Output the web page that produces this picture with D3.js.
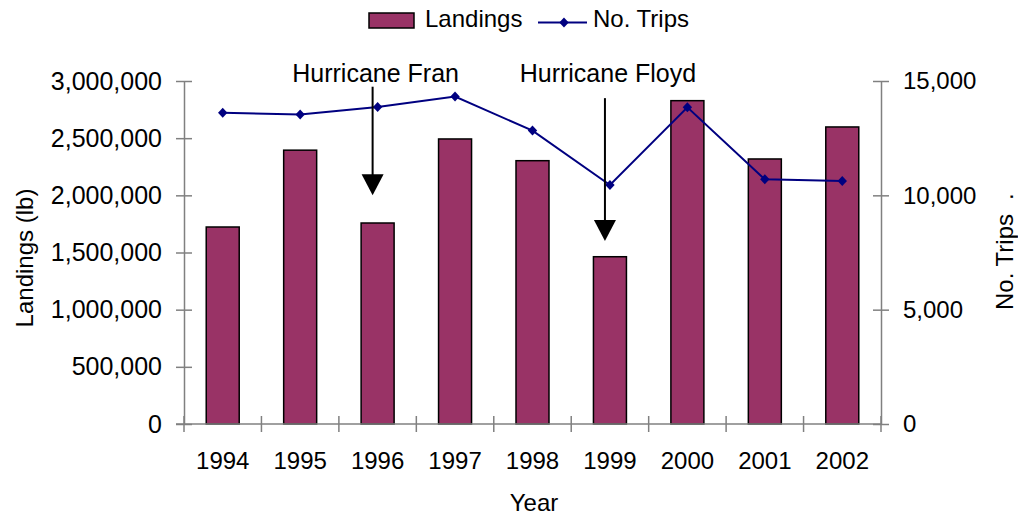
<!DOCTYPE html>
<html>
<head>
<meta charset="utf-8">
<script src="https://cdn.jsdelivr.net/npm/d3@7"></script>
<style>
  html, body { margin: 0; padding: 0; background: #fff; }
  svg { display: block; font-family: "Liberation Sans", Arial, sans-serif; }
</style>
</head>
<body>
<svg id="chart" width="1018" height="518"></svg>
<script>
const years = ["1994","1995","1996","1997","1998","1999","2000","2001","2002"];
const landings = [1723000, 2395000, 1758000, 2493000, 2303000, 1463000, 2828000, 2318000, 2598000];
const trips = [13610, 13540, 13860, 14320, 12830, 10450, 13850, 10700, 10630];
const leftTicks = [0, 500000, 1000000, 1500000, 2000000, 2500000, 3000000];
const rightTicks = [0, 5000, 10000, 15000];
const hurricanes = [
  { label: "Hurricane Fran", year: "1996", tip: 2000000, top: 2950000 },
  { label: "Hurricane Floyd", year: "1999", tip: 1600000, top: 2850000 }
];

const svg = d3.select("#chart");
const L = 184, R = 881, T = 81, B = 424;
const axisColor = "#808080";
const barColor = "#993366";
const lineColor = "#000080";
const font = '"Liberation Sans", Arial, sans-serif';

const x = d3.scaleBand().domain(years).range([L, R]).paddingInner(0.574).paddingOuter(0.287);
const step = x.step();
const cx = d => x(d) + x.bandwidth() / 2;
const yL = d3.scaleLinear().domain([0, 3000000]).range([B, T]);
const yR = d3.scaleLinear().domain([0, 15000]).range([B, T]);

// Bars
svg.append("g").selectAll("rect").data(years).join("rect")
  .attr("x", d => x(d))
  .attr("width", x.bandwidth())
  .attr("y", (d, i) => yL(landings[i]))
  .attr("height", (d, i) => B - yL(landings[i]))
  .attr("fill", barColor)
  .attr("stroke", "#000")
  .attr("stroke-width", 1.5);

// Left axis
const gL = svg.append("g").attr("transform", `translate(${L},0)`)
  .call(d3.axisLeft(yL).tickValues(leftTicks).tickFormat(d3.format(",")).tickSize(8).tickSizeOuter(0).tickPadding(14));
gL.selectAll(".tick line").attr("x1", 8);
// Right axis
const gR = svg.append("g").attr("transform", `translate(${R},0)`)
  .call(d3.axisRight(yR).tickValues(rightTicks).tickFormat(d3.format(",")).tickSize(8).tickSizeOuter(0).tickPadding(14));
gR.selectAll(".tick line").attr("x1", -8);

// Bottom axis (category boundary ticks)
const gB = svg.append("g").attr("transform", `translate(0,${B})`)
  .call(d3.axisBottom(x).tickSize(0).tickSizeOuter(0).tickPadding(28));
gB.select(".domain").remove();
const boundaries = years.map(d => x(d) - (step - x.bandwidth()) / 2).concat([R]);
gB.selectAll("line.bt").data(boundaries).join("line").attr("class", "bt")
  .attr("x1", d => d).attr("x2", d => d).attr("y1", -8).attr("y2", 8)
  .attr("stroke", axisColor).attr("stroke-width", 1.5);
gB.append("line").attr("x1", L - 8).attr("x2", R).attr("y1", 0).attr("y2", 0)
  .attr("stroke", axisColor).attr("stroke-width", 1.5);

[gL, gR].forEach(g => {
  g.select(".domain").attr("stroke", axisColor).attr("stroke-width", 1.5);
  g.selectAll(".tick line").attr("stroke", axisColor).attr("stroke-width", 1.5);
});
[gL, gR, gB].forEach(g => {
  g.selectAll(".tick text").attr("font-size", 24).attr("fill", "#000").attr("font-family", font);
});
gL.selectAll(".tick text").attr("font-size", 25);
gB.selectAll(".tick text").attr("dy", "0.71em");

// Line
const line = d3.line().x((d, i) => cx(years[i])).y(d => yR(d));
svg.append("path").datum(trips).attr("d", line)
  .attr("fill", "none").attr("stroke", lineColor).attr("stroke-width", 2);
const diamondPath = "M0,-5L4.7,0L0,5L-4.7,0Z";
svg.append("g").selectAll("path").data(trips).join("path")
  .attr("d", diamondPath)
  .attr("transform", (d, i) => `translate(${cx(years[i])},${yR(d)})`)
  .attr("fill", lineColor);

// Hurricane annotations
hurricanes.forEach(h => {
  const ax = cx(h.year) - 5;
  const tipY = yL(h.tip);
  svg.append("text").attr("x", cx(h.year) - 2).attr("y", 82)
    .attr("text-anchor", "middle").attr("font-size", 25).text(h.label);
  svg.append("line").attr("x1", ax).attr("x2", ax)
    .attr("y1", yL(h.top)).attr("y2", tipY - 18)
    .attr("stroke", "#000").attr("stroke-width", 2);
  svg.append("path")
    .attr("d", `M${ax - 11},${tipY - 21}L${ax + 11},${tipY - 21}L${ax},${tipY}Z`)
    .attr("fill", "#000");
});

// Axis titles
svg.append("text").attr("transform", "translate(33,258) rotate(-90)")
  .attr("text-anchor", "middle").attr("font-size", 24).text("Landings (lb)");
const rt = svg.append("text").attr("transform", "translate(1013,310) rotate(-90)")
  .attr("text-anchor", "start").attr("font-size", 24);
rt.append("tspan").text("No. Trips");
rt.append("tspan").attr("dx", 14).text(".");
svg.append("text").attr("x", 534).attr("y", 511)
  .attr("text-anchor", "middle").attr("font-size", 24).text("Year");

// Legend
const lg = svg.append("g");
lg.append("rect").attr("x", 369).attr("y", 13).attr("width", 45).attr("height", 15)
  .attr("fill", barColor).attr("stroke", "#000").attr("stroke-width", 1.5);
lg.append("text").attr("x", 425).attr("y", 27).attr("font-size", 24).text("Landings");
lg.append("line").attr("x1", 538).attr("x2", 587).attr("y1", 22.5).attr("y2", 22.5)
  .attr("stroke", lineColor).attr("stroke-width", 2);
lg.append("path").attr("d", diamondPath).attr("transform", "translate(564,22.5)").attr("fill", lineColor);
lg.append("text").attr("x", 593).attr("y", 27).attr("font-size", 24).text("No. Trips");
</script>
</body>
</html>
